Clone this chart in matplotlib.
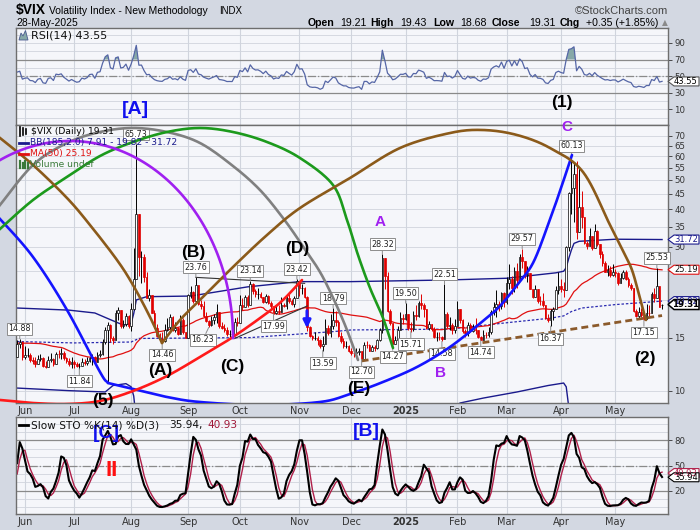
import numpy as np
import pandas as pd
import matplotlib
matplotlib.use("Agg")
import matplotlib.pyplot as plt
from matplotlib.patches import Polygon, Rectangle

W_PX, H_PX = 700, 530

HOLIDAYS = ["2024-03-29", "2024-05-27", "2024-06-19", "2024-07-04", "2024-09-02",
            "2024-11-28", "2024-12-25", "2025-01-01", "2025-01-09", "2025-01-20",
            "2025-02-17", "2025-04-18", "2025-05-26"]

# bars before the visible window (15-Mar .. 28-May-2024), only feed MA(50), RSI and STO
warm_close = ([14.41, 14.33, 13.82, 12.92, 13.06, 13.06, 13.19, 13.24, 12.78, 13.01]
              + [13.65, 14.61, 14.33, 16.35, 16.03, 15.19, 14.98, 15.80, 14.91, 17.31, 19.23,
                 18.40, 18.21, 18.00, 16.14, 16.94, 15.69, 15.97, 15.37, 15.03, 14.67, 15.65]
              + [15.39, 14.68, 13.49, 13.49, 13.23, 13.00, 12.69, 12.55, 13.60, 13.42, 12.45,
                 12.42, 11.99, 12.15, 11.86, 12.29, 12.77, 11.93, 12.92])
warm_high = ([14.90, 14.80, 14.60, 14.10, 13.40, 13.60, 13.60, 13.50, 13.40, 13.30]
             + [14.00, 14.80, 15.10, 16.90, 17.10, 16.20, 15.60, 16.30, 16.40, 17.60, 19.50,
                19.80, 18.70, 18.90, 21.36, 17.30, 17.00, 16.90, 16.20, 15.70, 15.20, 16.00]
             + [16.30, 15.70, 14.80, 13.90, 13.60, 13.40, 13.10, 12.80, 13.70, 13.70, 13.20,
                12.70, 12.40, 12.60, 12.20, 12.70, 13.20, 12.70, 13.10])
warm_low = ([14.00, 13.90, 13.70, 12.80, 12.60, 12.90, 12.90, 12.80, 12.60, 12.80]
            + [13.10, 13.60, 14.00, 14.00, 15.70, 15.00, 14.60, 15.10, 14.80, 15.40, 17.50,
               18.00, 17.90, 17.70, 15.90, 16.40, 15.60, 15.40, 15.20, 14.90, 14.60, 14.60]
            + [14.60, 14.40, 13.40, 13.20, 13.00, 12.90, 12.60, 12.40, 12.60, 13.20, 12.30,
               12.10, 11.90, 11.90, 11.70, 11.80, 12.10, 11.90, 12.00])

# visible bars 29-May-2024 .. 28-May-2025, one list per month
close_m = [
    [14.28, 14.47, 12.92],
    [13.11, 13.16, 12.63, 12.58, 12.22, 12.74, 12.85, 12.04, 11.94, 12.66, 12.75, 12.30, 13.28,
     13.20, 13.33, 12.84, 12.55, 12.24, 12.44],
    [12.22, 12.03, 12.09, 12.48, 12.37, 12.51, 12.85, 12.89, 12.46, 13.12, 13.19, 14.48, 15.93,
     16.52, 14.91, 14.72, 18.04, 18.46, 16.39, 16.60, 17.69, 16.36],
    [18.59, 23.39, 38.57, 27.71, 27.85, 23.79, 20.37, 20.71, 18.12, 16.19, 15.23, 14.80, 14.65,
     15.88, 16.27, 17.55, 15.86, 16.15, 15.43, 17.11, 15.65, 15.00],
    [20.72, 21.32, 19.90, 22.38, 19.45, 19.08, 17.69, 17.07, 16.56, 17.14, 17.61, 18.23, 16.33,
     16.15, 15.89, 15.39, 15.41, 15.37, 16.96, 16.73],
    [19.26, 18.90, 20.49, 19.21, 22.64, 21.42, 20.86, 20.93, 20.46, 19.70, 20.64, 19.58, 19.11,
     18.03, 18.37, 18.20, 19.24, 19.08, 20.33, 19.80, 19.34, 20.35, 23.16],
    [21.88, 21.98, 20.49, 16.27, 15.20, 14.94, 14.97, 14.71, 14.02, 14.31, 16.14, 15.58, 16.35,
     17.16, 16.87, 15.24, 14.60, 14.10, 14.10, 13.51],
    [13.34, 13.30, 13.45, 13.54, 12.77, 14.19, 14.18, 13.58, 13.92, 13.81, 14.69, 15.87, 27.62,
     24.09, 18.36, 16.78, 14.27, 14.73, 15.95, 17.40, 17.35],
    [17.93, 16.13, 16.04, 17.82, 17.70, 19.54, 19.19, 18.71, 16.12, 16.60, 15.97, 15.06, 15.10,
     15.02, 14.85, 17.90, 16.41, 16.56, 15.84, 16.43],
    [18.62, 17.21, 15.77, 15.50, 16.54, 15.81, 16.02, 15.89, 15.10, 14.77, 15.35, 15.27, 15.66,
     18.21, 18.98, 19.43, 19.10, 21.13, 19.63],
    [22.78, 23.51, 21.93, 24.87, 23.37, 27.86, 26.92, 24.23, 24.66, 21.77, 20.51, 21.70, 19.90,
     19.80, 19.28, 17.48, 17.15, 18.33, 18.69, 21.65, 22.28],
    [21.77, 21.51, 30.02, 45.31, 46.98, 52.33, 33.62, 40.72, 37.56, 30.89, 30.12, 32.64, 29.65,
     33.82, 30.57, 28.45, 26.47, 24.84, 25.15, 24.17, 24.70],
    [24.60, 22.68, 23.64, 24.76, 23.55, 22.48, 21.90, 18.39, 17.72, 18.22, 17.83, 17.24, 18.14,
     18.09, 20.87, 20.28, 22.29, 18.96, 19.31],
]
high_m = [
    [14.71, 14.88, 14.56],
    [14.10, 13.90, 13.30, 12.95, 12.90, 13.10, 13.20, 12.90, 12.50, 13.00, 13.30, 12.80, 13.40,
     13.60, 13.90, 13.50, 12.95, 12.80, 12.90],
    [12.60, 12.40, 12.35, 12.80, 12.70, 12.90, 12.95, 13.20, 13.00, 13.40, 13.60, 14.80, 16.30,
     16.95, 16.60, 15.20, 18.45, 18.90, 18.00, 17.10, 18.10, 17.80],
    [19.55, 29.66, 65.73, 38.60, 29.09, 28.32, 24.80, 21.80, 20.80, 18.50, 16.70, 15.50, 15.60,
     16.60, 17.40, 17.90, 17.70, 16.90, 16.30, 17.80, 17.40, 15.70],
    [21.00, 22.30, 21.40, 23.76, 21.20, 20.00, 19.90, 18.20, 17.20, 17.70, 18.00, 19.40, 17.80,
     16.90, 16.70, 16.30, 15.90, 16.00, 17.40, 17.60],
    [20.70, 20.30, 20.80, 20.80, 23.14, 22.80, 21.70, 21.90, 21.20, 20.50, 21.00, 20.70, 19.90,
     19.10, 19.30, 19.20, 20.50, 19.60, 20.60, 21.10, 20.20, 20.60, 23.42],
    [22.40, 22.60, 22.00, 20.60, 16.40, 15.30, 15.60, 15.20, 14.80, 15.20, 17.30, 16.50, 17.90,
     18.79, 18.40, 17.20, 15.70, 14.90, 14.60, 14.20],
    [13.90, 13.80, 13.80, 13.90, 13.50, 14.50, 14.60, 14.30, 14.20, 14.20, 14.80, 16.10, 28.32,
     27.40, 24.80, 18.70, 16.80, 15.20, 16.40, 18.20, 18.00],
    [19.50, 17.90, 16.90, 18.40, 19.30, 19.80, 21.00, 19.60, 17.70, 17.00, 16.40, 16.30, 15.60,
     15.60, 15.20, 22.51, 18.20, 17.60, 16.80, 17.30],
    [19.90, 18.70, 17.30, 16.00, 16.90, 16.80, 16.60, 17.40, 15.90, 15.20, 15.90, 15.70, 16.30,
     18.50, 19.70, 21.50, 19.80, 21.30, 21.30],
    [23.80, 26.40, 24.10, 25.80, 26.60, 28.30, 29.57, 26.90, 26.00, 23.70, 21.80, 22.50, 21.80,
     20.60, 21.10, 18.90, 17.90, 18.60, 19.00, 22.20, 24.80],
    [23.50, 23.00, 30.30, 45.60, 60.13, 57.50, 57.96, 54.90, 46.10, 36.00, 31.30, 34.70, 32.60,
     35.70, 34.20, 30.20, 29.10, 27.00, 26.10, 25.90, 26.40],
    [25.40, 24.80, 24.60, 25.10, 25.10, 23.90, 22.70, 19.60, 18.60, 18.90, 18.80, 17.80, 19.40,
     19.30, 21.20, 21.90, 25.53, 21.50, 19.43],
]
low_m = [
    [12.95, 13.90, 12.65],
    [12.70, 12.90, 12.40, 12.30, 11.95, 12.30, 12.55, 11.95, 11.90, 12.20, 12.45, 12.10, 12.40,
     12.85, 12.70, 12.60, 12.35, 12.10, 11.90],
    [11.90, 11.95, 11.84, 12.05, 12.15, 12.20, 12.40, 12.20, 12.25, 12.60, 12.90, 13.10, 14.30,
     10.62, 14.50, 14.30, 15.00, 17.20, 16.20, 16.10, 16.40, 16.20],
    [15.80, 18.50, 23.39, 24.03, 22.80, 23.00, 20.30, 19.80, 18.10, 16.10, 15.10, 14.60, 14.46,
     14.55, 15.80, 16.00, 15.80, 15.60, 15.30, 15.40, 15.40, 14.90],
    [15.80, 20.30, 19.60, 19.50, 19.30, 18.70, 17.60, 16.90, 16.23, 16.40, 16.60, 16.80, 16.20,
     16.00, 15.60, 15.20, 15.10, 15.00, 15.30, 16.40],
    [16.80, 18.50, 19.60, 18.90, 19.40, 21.00, 20.50, 20.10, 20.30, 19.50, 19.50, 19.40, 18.70,
     17.99, 18.00, 18.00, 18.80, 18.90, 18.60, 19.60, 19.20, 19.00, 20.30],
    [20.60, 20.90, 20.30, 15.80, 15.10, 14.70, 14.70, 14.20, 13.80, 13.59, 14.40, 15.30, 15.10,
     16.00, 16.40, 15.10, 14.40, 13.90, 13.80, 13.40],
    [13.10, 12.90, 13.10, 13.10, 12.70, 12.90, 13.80, 13.50, 13.50, 13.50, 13.70, 14.60, 15.50,
     21.70, 18.20, 16.50, 14.27, 14.50, 15.00, 16.40, 16.70],
    [17.20, 15.90, 15.71, 15.80, 17.20, 17.50, 18.60, 17.50, 16.00, 15.90, 15.80, 15.00, 14.60,
     14.70, 14.58, 15.80, 16.20, 15.90, 15.40, 15.50],
    [16.50, 16.80, 15.50, 15.10, 15.20, 15.60, 15.70, 15.40, 14.90, 14.74, 15.00, 15.00, 15.10,
     15.40, 17.80, 17.50, 18.40, 18.70, 18.90],
    [19.40, 21.70, 21.00, 21.20, 21.90, 23.80, 25.50, 23.70, 23.00, 21.70, 20.30, 20.80, 19.60,
     19.20, 19.00, 17.30, 16.90, 16.37, 17.20, 18.80, 21.00],
    [21.20, 20.40, 24.80, 29.00, 38.60, 36.20, 31.90, 33.60, 34.70, 30.60, 29.50, 30.10, 29.20,
     31.40, 30.30, 27.50, 25.90, 24.70, 24.00, 23.90, 24.00],
    [23.80, 22.50, 22.70, 23.50, 23.30, 22.00, 21.60, 18.30, 17.50, 17.30, 17.60, 17.15, 17.50,
     17.70, 18.10, 19.70, 20.50, 18.90, 18.68],
]

# Bollinger(185,2) bands (bar index, value)
bb_upper = [(0, 18.8), (20, 18.5), (30, 18.1), (36, 17.2), (41, 16.5), (44, 16.7), (45, 18.0),
            (46, 20.0), (50, 20.5), (67, 20.6), (89, 22.1), (109, 23.0), (129, 23.0), (167, 23.3),
            (189, 23.6), (208, 24.6), (211, 24.9), (212, 25.6), (213, 27.5), (214, 29.3),
            (215, 30.8), (217, 31.3), (231, 31.8), (249, 31.72)]
bb_mid = [(0, 14.55), (22, 14.4), (44, 14.5), (47, 14.9), (90, 15.0), (122, 15.7), (129, 15.9),
          (167, 16.0), (189, 16.8), (206, 17.4), (211, 17.7), (214, 18.3), (218, 18.8),
          (231, 19.3), (249, 19.82)]
bb_lower = [(0, 10.2), (20, 10.0), (34, 9.9), (37, 10.4), (42, 10.55), (44, 10.3), (45, 9.6),
            (46, 8.0), (48, 6.5), (100, 6.5), (160, 7.5), (168, 8.6), (171, 9.1), (180, 9.45),
            (193, 9.9), (205, 10.4), (211, 10.6), (212, 10.3), (213, 8.8), (214, 7.5),
            (249, 7.91)]

# last values shown in the legends / tags
last = dict(close=19.31, open=19.21, high=19.43, low=18.68, chg="+0.35 (+1.85%)",
            rsi=43.55, bb_lo=7.91, bb_mid=19.82, bb_up=31.72, ma=25.19, k=35.94, d=40.93)

# swing labels (date, price, high/low)
swing = [("2024-05-30", 14.88, "h"), ("2024-07-03", 11.84, "l"), ("2024-08-05", 65.73, "h"),
         ("2024-08-19", 14.46, "l"), ("2024-09-06", 23.76, "h"), ("2024-09-13", 16.23, "l"),
         ("2024-10-07", 23.14, "h"), ("2024-10-18", 17.99, "l"), ("2024-10-31", 23.42, "h"),
         ("2024-11-14", 13.59, "l"), ("2024-11-20", 18.79, "h"), ("2024-12-06", 12.70, "l"),
         ("2024-12-18", 28.32, "h"), ("2024-12-24", 14.27, "l"), ("2025-01-02", 19.50, "h"),
         ("2025-01-06", 15.71, "l"), ("2025-01-24", 14.58, "l"), ("2025-01-27", 22.51, "h"),
         ("2025-02-14", 14.74, "l"), ("2025-03-11", 29.57, "h"), ("2025-03-26", 16.37, "l"),
         ("2025-04-07", 60.13, "h"), ("2025-05-16", 17.15, "l"), ("2025-05-23", 25.53, "h")]

# trendlines (date, price)
trend_brown = [("2024-12-06", 12.55), ("2025-05-28", 17.75)]
trend_bd = [("2024-09-06", 23.76), ("2024-11-05", 22.7)]
trend_c = [("2024-09-27", 14.9), ("2024-11-06", 19.1)]

# hand-drawn cycle arcs, in screen pixels (x right, y down)
arcs = {
    "#1414ff": [[(-10, 209), (0, 219), (33, 257), (67, 310), (100, 372), (108, 383)],
                [(108, 383), (133, 389), (167, 397), (200, 402), (260, 405), (320, 402),
                 (350, 394), (383, 382), (417, 367), (450, 347), (483, 321), (500, 306),
                 (517, 285), (533, 263), (548, 225), (560, 191), (572, 155)]],
    "#808080": [[(-10, 218), (0, 205), (33, 165), (67, 143), (100, 132), (133, 128), (167, 132),
                 (200, 143), (233, 166), (260, 190), (283, 218), (300, 242), (320, 272),
                 (335, 302), (347, 330), (358, 360)]],
    "#1c9a1c": [[(-10, 238), (0, 229), (33, 200), (67, 177), (100, 156), (133, 142), (167, 132),
                 (200, 128), (233, 132), (267, 142), (300, 158), (333, 185), (347, 220),
                 (358, 255), (370, 288), (383, 318), (393, 348)]],
    "#8b5a1a": [[(-10, 130), (0, 138), (33, 165), (67, 198), (90, 225), (117, 260), (133, 285),
                 (150, 317), (162, 343)],
                [(162, 343), (180, 320), (200, 300), (233, 267), (267, 235), (300, 208),
                 (350, 178), (400, 148), (450, 133), (483, 130), (517, 135), (550, 148),
                 (583, 172), (610, 225), (625, 255), (633, 273), (643, 310), (646, 320)]],
    "#ff1a1a": [[(-10, 399), (0, 400), (33, 403), (67, 404), (100, 401), (133, 391), (167, 376),
                 (200, 357), (233, 337), (267, 313), (283, 300), (302, 280)]],
}
purple_arc = dict(cx=70, cy=338, a=163, b=197)

wave_black = [("(A)", 160, 371), ("(B)", 193, 253), ("(C)", 232, 366), ("(D)", 297, 249),
              ("(E)", 359, 389), ("(5)", 103, 400), ("(2)", 645, 358), ("(1)", 562, 103)]
wave_purple = [("C", 567, 127), ("A", 380, 222), ("B", 440, 373)]
wave_blue = [("[A]", 135, 109), ("[C]", 106, 434), ("[B]", 366, 431)]


def catmull(pts, n=24):
    p = np.array(pts, float)
    p = np.vstack([2 * p[0] - p[1], p, 2 * p[-1] - p[-2]])
    t = np.linspace(0, 1, n)[:, None]
    out = []
    for k in range(1, len(p) - 2):
        p0, p1, p2, p3 = p[k - 1], p[k], p[k + 1], p[k + 2]
        out.append(0.5 * (2 * p1 + (p2 - p0) * t + (2 * p0 - 5 * p1 + 4 * p2 - p3) * t ** 2
                          + (-p0 + 3 * p1 - 3 * p2 + p3) * t ** 3))
    return np.vstack(out)


# ---- series ----
close = sum(close_m, [])
high = sum(high_m, [])
low = sum(low_m, [])
dates = pd.bdate_range("2024-03-15", "2025-05-28", freq="C", holidays=HOLIDAYS)
nw = len(warm_close)
all_c = pd.Series(warm_close + close, index=dates)
all_h = pd.Series(warm_high + high, index=dates)
all_l = pd.Series(warm_low + low, index=dates)
vis = dates[nw:]
pos = {d.strftime("%Y-%m-%d"): k for k, d in enumerate(vis)}
x = np.arange(len(vis))

c = np.array(close)
o = np.r_[warm_close[-1], c[:-1]]
o[-1] = last["open"]
h = np.maximum(np.array(high), np.maximum(o, c))
l = np.minimum(np.array(low), np.minimum(o, c))

ma50 = all_c.rolling(50).mean().values[nw:]
dlt = all_c.diff()
gain = dlt.clip(lower=0).ewm(alpha=1 / 14, adjust=False).mean()
loss = (-dlt.clip(upper=0)).ewm(alpha=1 / 14, adjust=False).mean()
rsi = (100 - 100 / (1 + gain / loss)).values[nw:]
hh = all_h.rolling(14).max()
ll = all_l.rolling(14).min()
fast_k = 100 * (all_c - ll) / (hh - ll)
slow_k = fast_k.rolling(3).mean()
slow_d = slow_k.rolling(3).mean()
sk = slow_k.values[nw:]
sd = slow_d.values[nw:]

month_idx, month_lbl = [], []
for k, d in enumerate(vis):
    if k > 0 and d.month != vis[k - 1].month:
        month_idx.append(k)
        month_lbl.append("2025" if d.month == 1 else d.strftime("%b"))

# ---- figure ----
BG = "#d3d8e2"
PANEL = "#f5f6fa"
GRID = "#d0d4dd"
fig = plt.figure(figsize=(W_PX / 100, H_PX / 100), dpi=100, facecolor=BG)


def panel(top, bot):
    a = fig.add_axes([16 / W_PX, 1 - bot / H_PX, 652 / W_PX, (bot - top) / H_PX])
    a.set_facecolor(PANEL)
    for s in a.spines.values():
        s.set_color("#6e6e6e")
        s.set_linewidth(1.0)
    a.set_xlim(-0.45, 251.3)
    a.yaxis.tick_right()
    a.tick_params(axis="y", direction="out", length=3, width=0.6, pad=1.5, labelsize=6.2,
                  colors="#333333")
    a.tick_params(axis="x", length=0, pad=2, labelsize=7, colors="#333333")
    for mi in month_idx:
        a.axvline(mi, color=GRID, lw=0.8, zorder=0)
    return a


ax_rsi = panel(28, 125)
ax = panel(125, 403)
ax_sto = panel(417, 514)

# RSI panel
ax_rsi.set_ylim(-9, 108)
for gv in range(0, 101, 10):
    ax_rsi.axhline(gv, color=GRID, lw=0.6, zorder=0)
ax_rsi.axhline(70, color="#8a8a8a", lw=0.9)
ax_rsi.axhline(30, color="#8a8a8a", lw=0.9)
ax_rsi.axhline(50, color="#8a8a8a", lw=0.9, ls="-.")
ax_rsi.fill_between(x, 70, rsi, where=rsi > 70, interpolate=True, color="#86a8a8", lw=0)
ax_rsi.plot(x, rsi, color="#5566a6", lw=0.9)
ax_rsi.set_yticks([10, 30, 50, 70, 90])
ax_rsi.set_xticks([])

# price panel
ax.set_yscale("log")
ax.set_ylim(9.1, 76.1)
pticks = [10, 15, 20, 25, 30, 35, 40, 45, 50, 55, 60, 65, 70]
for gv in pticks:
    ax.axhline(gv, color=GRID, lw=0.6, zorder=0)
ax.set_yticks(pticks)
# 20 and 25 sit under the value tags on the right edge
ax.set_yticklabels(["" if t in (20, 25) else str(t) for t in pticks])
ax.yaxis.set_minor_locator(matplotlib.ticker.NullLocator())

ux, uy = zip(*bb_upper)
mx, my = zip(*bb_mid)
lx, ly = zip(*bb_lower)
ax.plot(ux, uy, color="#1a1a8c", lw=1.0, zorder=2)
ax.plot(lx, ly, color="#1a1a8c", lw=1.0, zorder=2)
ax.plot(mx, my, color="#2a2ab0", lw=0.9, ls=(0, (2, 1.5)), zorder=2)
ax.plot(x, ma50, color="#e01010", lw=0.9, zorder=2)

up = c >= o
col = np.where(up, "black", "#e00000")
ax.vlines(x, l, h, colors=col, lw=0.7, zorder=3)
ax.bar(x, np.abs(c - o), bottom=np.minimum(o, c), width=0.62,
       color=np.where(up, "white", "#e00000"), edgecolor=col, lw=0.5, zorder=4)

for pts, color, ls in [(trend_brown, "#8b5a2b", (0, (2.5, 1.5))), (trend_bd, "#333333", "-"),
                       (trend_c, "#333333", "-")]:
    ax.plot([pos[d] if d in pos else len(vis) + 1.5 for d, _ in pts], [v for _, v in pts],
            color=color, lw=2.0 if color == "#8b5a2b" else 0.8, ls=ls, zorder=5)

for d, v, kind in swing:
    dy = 10 if kind == "h" else -12.5
    dx = -6 if d == "2024-09-13" else 0
    ax.annotate(f"{v:.2f}", xy=(pos[d], v), xytext=(dx, dy), textcoords="offset pixels",
                ha="center", va="center", fontsize=5.8, color="#222222", zorder=8,
                bbox=dict(boxstyle="square,pad=0.18", fc="white", ec="#8c8c8c", lw=0.7),
                arrowprops=dict(arrowstyle="-", color="#8c8c8c", lw=0.7, shrinkA=0, shrinkB=0))

ax.set_xticks(month_idx)
ax.set_xticklabels(month_lbl)

# STO panel
ax_sto.set_ylim(-8, 108)
for gv in range(0, 101, 10):
    ax_sto.axhline(gv, color=GRID, lw=0.6, zorder=0)
ax_sto.axhline(80, color="#8a8a8a", lw=0.9)
ax_sto.axhline(20, color="#8a8a8a", lw=0.9)
ax_sto.axhline(50, color="#8a8a8a", lw=0.9, ls="-.")
ax_sto.plot(x, sd, color="#b0204a", lw=1.0)
ax_sto.plot(x, sk, color="black", lw=1.5)
ax_sto.set_yticks([20, 50, 80])
ax_sto.set_xticks(month_idx)
ax_sto.set_xticklabels(month_lbl)
for a in (ax, ax_sto):
    for t in a.get_xticklabels():
        if t.get_text() == "2025":
            t.set_fontweight("bold")

# ---- overlay in screen pixels ----
ov = fig.add_axes([0, 0, 1, 1], zorder=10)
ov.set_xlim(0, W_PX)
ov.set_ylim(H_PX, 0)
ov.axis("off")
ov.patch.set_alpha(0)
clip = Rectangle((-50, 125), 718, 278, transform=ov.transData, fill=False, lw=0)
ov.add_patch(clip)


def to_px(a, xv, yv):
    dx_, dy_ = a.transData.transform((xv, yv))
    return dx_, H_PX - dy_


for color, segs in arcs.items():
    for seg in segs:
        cp = catmull(seg)
        ln, = ov.plot(cp[:, 0], cp[:, 1], color=color, lw=1.9, solid_capstyle="round")
        ln.set_clip_path(clip)
th = np.linspace(0, np.radians(125), 120)
ln, = ov.plot(purple_arc["cx"] + purple_arc["a"] * np.cos(th),
              purple_arc["cy"] - purple_arc["b"] * np.sin(th), color="#a020f0", lw=1.9)
ln.set_clip_path(clip)

ov.annotate("", xy=(307, 331), xytext=(307, 308),
            arrowprops=dict(arrowstyle="-|>", color="#1a1aff", lw=2.2, mutation_scale=11))

for txt, px, py in wave_black:
    ov.text(px, py, txt, ha="center", va="center", fontsize=12.5, fontweight="bold",
            family="Liberation Sans", color="black")
for txt, px, py in wave_purple:
    ov.text(px, py, txt, ha="center", va="center", fontsize=11, fontweight="bold",
            family="Liberation Sans", color="#a020f0")
for txt, px, py in wave_blue:
    ov.text(px, py, txt, ha="center", va="center", fontsize=14, fontweight="bold",
            family="Liberation Sans", color="#1010ee")
ov.text(112, 470, "II", ha="center", va="center", fontsize=16, fontweight="bold",
        family="Liberation Sans", color="#ff1010")

# header
ov.text(16, 10, "$VIX", fontsize=10, fontweight="bold", family="Liberation Sans", va="center")
ov.text(49, 10.5, "Volatility Index - New Methodology", fontsize=7.5, family="Liberation Sans",
        va="center")
ov.text(219, 10.5, "INDX", fontsize=7, family="Liberation Sans", va="center")
ov.text(668, 10.5, "\u00a9StockCharts.com", fontsize=8, family="Liberation Sans", va="center",
        ha="right", color="#444444")
ov.text(16, 22.5, "28-May-2025", fontsize=7.5, family="Liberation Sans", va="center")
hdr = [("Open", 308, True), (f"{last['open']:.2f}", 340, False), ("High", 370.5, True),
       (f"{last['high']:.2f}", 400, False), ("Low", 433, True), (f"{last['low']:.2f}", 460, False),
       ("Close", 492, True), (f"{last['close']:.2f}", 529, False), ("Chg", 560, True),
       (last["chg"], 586, False)]
for txt, px, bold in hdr:
    ov.text(px, 22.5, txt, fontsize=7.6, family="Liberation Sans", va="center",
            fontweight="bold" if bold else "normal")
ov.text(665, 22.5, "\u25b2", fontsize=5.5, ha="center", va="center", color="#8a8a8a")

# legends
ov.add_patch(Polygon([(19, 40), (21, 33), (23, 36), (25.5, 30.5), (28, 40)], closed=True,
                     fc="#86a8a8", ec="#4a5a90", lw=0.6))
ov.text(31, 35.5, f"RSI(14) {last['rsi']:.2f}", fontsize=8, va="center", color="#111111")
for k_, hx in enumerate([20, 23, 26]):
    ov.plot([hx, hx], [127 + k_, 136 - k_], color="black", lw=1.2)
ov.text(31, 131, f"$VIX (Daily) {last['close']:.2f}", fontsize=6.6, va="center")
ov.plot([19, 28], [142.5, 142.5], color="#1a1a8c", lw=2)
ov.text(30, 142.5, f"BB(185,2.0) {last['bb_lo']:.2f} - {last['bb_mid']:.2f} - {last['bb_up']:.2f}",
        fontsize=6.6, va="center", color="#1a1a8c")
ov.plot([19, 28], [153.5, 153.5], color="#e01010", lw=2)
ov.text(30, 153.5, f"MA(50) {last['ma']:.2f}", fontsize=6.6, va="center", color="#e01010")
for k_, hx in enumerate([20, 22.5, 25, 27.5]):
    ov.plot([hx, hx], [168, 161 + (k_ % 2) * 2], color="#3a7a3a", lw=1.6)
ov.text(30, 164.5, "Volume undef", fontsize=6.6, va="center", color="#3a7a3a")
ov.plot([19, 28], [425, 425], color="black", lw=2)
ov.text(31, 425, "Slow STO %K(14) %D(3)", fontsize=7.6, va="center", color="#111111")
ov.text(169, 425, f"{last['k']:.2f},", fontsize=7.6, va="center", color="#111111")
ov.text(207, 425, f"{last['d']:.2f}", fontsize=7.6, va="center", color="#a01838")


def tag(a, val, ec, tc="black", bold=False):
    _, py = to_px(a, 0, val)
    hh_ = 5 if bold else 4.5
    ov.add_patch(Polygon([(668, py), (674, py - hh_), (699, py - hh_), (699, py + hh_),
                          (674, py + hh_)], closed=True, fc="white", ec=ec,
                         lw=1.1 if bold else 0.8))
    ov.text(686, py, f"{val:.2f}", ha="center", va="center", fontsize=6.1 if bold else 6.0,
            color=tc, fontweight="bold" if bold else "normal")


tag(ax_rsi, last["rsi"], "#555555")
tag(ax, last["bb_up"], "#1a1a8c", "#1a1a8c")
tag(ax, last["ma"], "#e01010", "#111111")
tag(ax, last["bb_mid"], "#1a1a8c", "#1a1a8c")
tag(ax, last["close"], "black", "black", bold=True)
tag(ax_sto, last["d"], "#b0204a", "#b0204a")
tag(ax_sto, last["k"], "black")

fig.savefig("out.png", dpi=100, facecolor=BG)
